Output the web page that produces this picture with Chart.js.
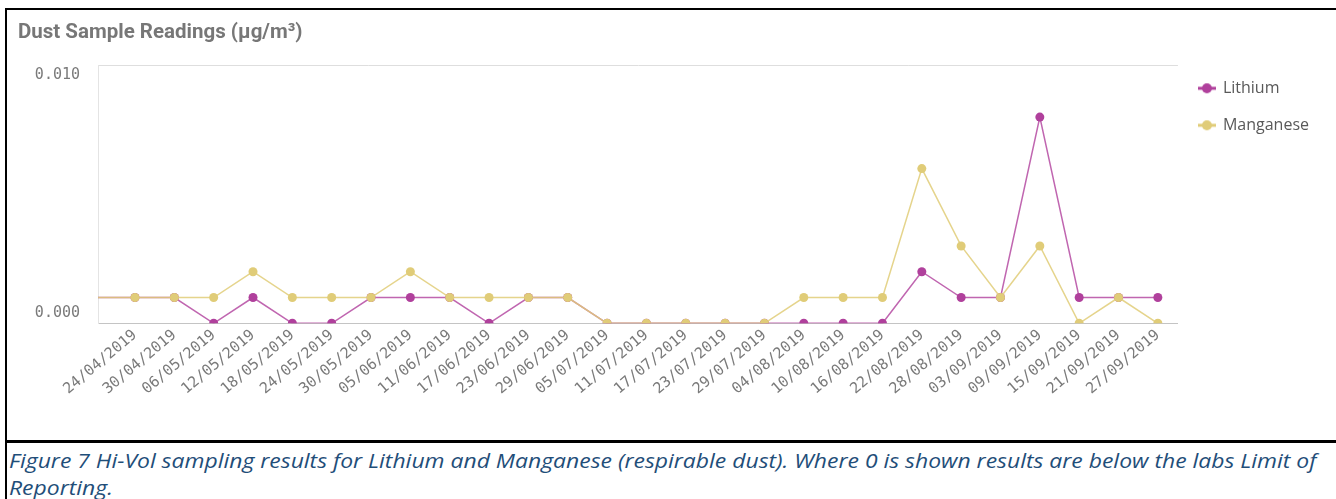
<!DOCTYPE html>
<html>
<head>
<meta charset="utf-8">
<script src="https://cdn.jsdelivr.net/npm/chart.js@4.4.1/dist/chart.umd.min.js"></script>
<style>
  body { margin: 0; background: #fff; width: 1336px; height: 499px; overflow: hidden; position: relative; }
  .rule { position: absolute; background: #000; }
  #wrap { position: absolute; left: 7px; top: 10px; width: 1329px; height: 430px; }
  #caption {
    position: absolute; left: 9px; top: 447px;
    font: italic 19.5px 'Open Sans', sans-serif; line-height: 27px;
    color: #1f4e79; white-space: nowrap; transform-origin: left top;
  }
</style>
</head>
<body>
<div class="rule" style="left:5px;top:8px;width:2px;height:491px"></div>
<div class="rule" style="left:5px;top:8px;width:1331px;height:2px"></div>
<div class="rule" style="left:5px;top:440px;width:1331px;height:3px"></div>
<div id="wrap"><canvas id="chart"></canvas></div>
<div id="caption"><span id="line1">Figure 7 Hi-Vol sampling results for Lithium and Manganese (respirable dust). Where 0 is shown results are below the labs Limit of</span><br><span>Reporting.</span></div>
<script>
// Hi-Vol readings, one every 6 days (first date only shows as the line coming in from the left)
var dates = ['18/04/2019', '24/04/2019', '30/04/2019', '06/05/2019', '12/05/2019', '18/05/2019',
  '24/05/2019', '30/05/2019', '05/06/2019', '11/06/2019', '17/06/2019', '23/06/2019',
  '29/06/2019', '05/07/2019', '11/07/2019', '17/07/2019', '23/07/2019', '29/07/2019',
  '04/08/2019', '10/08/2019', '16/08/2019', '22/08/2019', '28/08/2019', '03/09/2019',
  '09/09/2019', '15/09/2019', '21/09/2019', '27/09/2019'];

var lithium = [0.001, 0.001, 0.001, 0, 0.001, 0, 0, 0.001, 0.001, 0.001, 0, 0.001, 0.001,
  0, 0, 0, 0, 0, 0, 0, 0, 0.002, 0.001, 0.001, 0.008, 0.001, 0.001, 0.001];

var manganese = [0.001, 0.001, 0.001, 0.001, 0.002, 0.001, 0.001, 0.001, 0.002, 0.001, 0.001, 0.001, 0.001,
  0, 0, 0, 0, 0, 0.001, 0.001, 0.001, 0.006, 0.003, 0.001, 0.003, 0, 0.001, 0];

var yTicks = [0, 0.01];
var yTickLabels = ['0.000', '0.010'];

var liColor = '#b0409c';
var mnColor = '#e0cc78';

function points(values) {
  return values.map(function (v, i) { return { x: i, y: v }; });
}

// no dot for the cut-off first reading
function dotRadius(c) {
  return c.dataIndex === 0 ? 0 : 4.5;
}

// legend marker: short line with a dot on it
function legendMark(color) {
  var c = document.createElement('canvas');
  c.width = 18; c.height = 12;
  var g = c.getContext('2d');
  g.strokeStyle = color; g.lineWidth = 3;
  g.beginPath(); g.moveTo(0, 6); g.lineTo(18, 6); g.stroke();
  g.fillStyle = color;
  g.beginPath(); g.arc(9, 6, 5, 0, Math.PI * 2); g.fill();
  return c;
}
var marks = [legendMark(liColor), legendMark(mnColor)];

var tickFont = { family: "'DejaVu Sans Mono', monospace", size: 15 };

var ctx = document.getElementById('chart').getContext('2d');
var chart = new Chart(ctx, {
  type: 'line',
  data: {
    datasets: [{
      label: 'Lithium',
      data: points(lithium),
      borderColor: 'rgba(176,64,156,0.8)',
      backgroundColor: liColor,
      pointBackgroundColor: liColor,
      pointBorderWidth: 0,
      pointRadius: dotRadius,
      borderWidth: 1.5,
      order: 1,
      clip: { left: 0, top: 8, right: 8, bottom: 0 }
    }, {
      label: 'Manganese',
      data: points(manganese),
      borderColor: 'rgba(224,204,120,0.85)',
      backgroundColor: mnColor,
      pointBackgroundColor: mnColor,
      pointBorderWidth: 0,
      pointRadius: dotRadius,
      borderWidth: 1.5,
      order: 0,
      clip: { left: 0, top: 8, right: 8, bottom: 0 }
    }]
  },
  options: {
    animation: false,
    responsive: true,
    maintainAspectRatio: false,
    events: [],
    layout: { padding: { left: 11, right: 17, top: 0, bottom: 0 } },
    plugins: {
      title: {
        display: true,
        text: 'Dust Sample Readings (µg/m³)',
        align: 'start',
        color: '#777777',
        font: { family: 'Roboto', size: 20.5, weight: 'bold' },
        padding: { top: 10.5, bottom: 20.4 }
      },
      legend: {
        position: 'right',
        align: 'start',
        title: { display: true, text: '', font: { size: 12 }, padding: { top: 34.9, bottom: 0 } },
        labels: {
          usePointStyle: true,
          pointStyleWidth: 16,
          padding: 21,
          color: '#595959',
          font: { family: "'Open Sans'", size: 16 },
          sort: function (a, b) { return a.datasetIndex - b.datasetIndex; },
          generateLabels: function (c) {
            return Chart.defaults.plugins.legend.labels.generateLabels(c).map(function (item) {
              item.pointStyle = marks[item.datasetIndex];
              return item;
            });
          }
        }
      },
      tooltip: { enabled: false }
    },
    scales: {
      x: {
        type: 'linear',
        min: 0.06,
        max: 27.51,
        afterBuildTicks: function (s) {
          s.ticks = dates.slice(1).map(function (d, i) { return { value: i + 1 }; });
        },
        afterFit: function (s) { s.height = 116.7; },
        grid: { display: false },
        border: { color: '#c4c4c4' },
        ticks: {
          autoSkip: false,
          minRotation: 40,
          maxRotation: 40,
          padding: -5,
          color: '#7a7a7a',
          font: tickFont,
          callback: function (v) { return dates[v]; }
        }
      },
      y: {
        min: 0,
        max: 0.01,
        afterBuildTicks: function (s) {
          s.ticks = yTicks.map(function (v) { return { value: v }; });
        },
        afterFit: function (s) { s.width = 80; },
        grid: {
          drawTicks: false,
          color: function (c) { return c.tick && c.tick.value === 0 ? '#c4c4c4' : '#dedede'; }
        },
        border: { color: '#e4e4e4' },
        ticks: {
          padding: 18,
          color: '#7a7a7a',
          font: { family: tickFont.family, size: 15, lineHeight: '20px' },
          callback: function (v, i) {
            // bottom label sits above its line, top label below it
            return i === 0 ? [yTickLabels[0], ''] : ['', yTickLabels[1]];
          }
        }
      }
    }
  }
});

// stretch the caption line to the width it has in the document
var line1 = document.getElementById('line1');
var cap = document.getElementById('caption');
cap.style.transform = 'scaleX(' + (1308 / line1.offsetWidth) + ')';
</script>
</body>
</html>
